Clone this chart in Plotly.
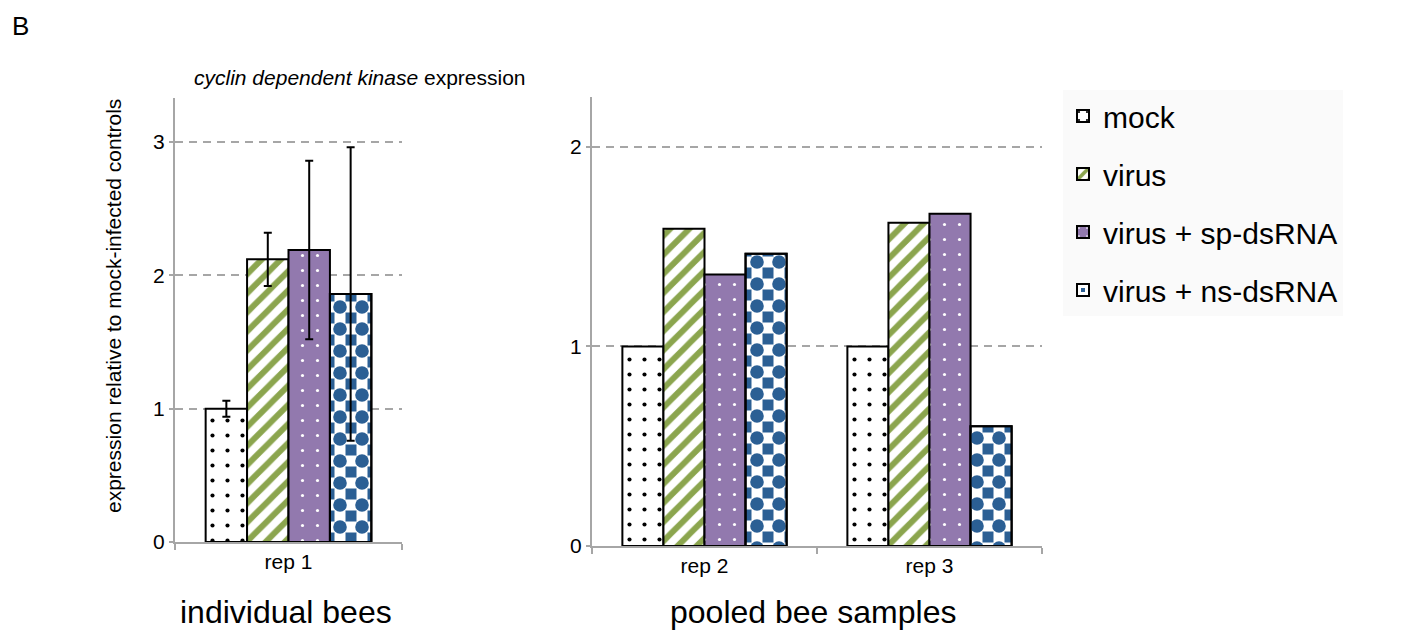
import plotly.graph_objects as go

W, H = 1427, 641
HE = 630.0  # effective vertical scale observed in the rendered page

# ---------------- data ----------------
series = ["mock", "virus", "virus + sp-dsRNA", "virus + ns-dsRNA"]
cats_left = ["rep 1"]
cats_right = ["rep 2", "rep 3"]

left_mock = [1.0]
left_virus = [2.12]
left_sp = [2.19]
left_ns = [1.86]
left_err_mock = [0.06]
left_err_virus = [0.20]
left_err_sp = [0.67]
left_err_ns = [1.10]

right_mock = [1.0, 1.0]
right_virus = [1.59, 1.62]
right_sp = [1.36, 1.665]
right_ns = [1.465, 0.60]

y_ticks_left = [0, 1, 2, 3]
y_ticks_right = [0, 1, 2]

# ---------------- style ----------------
FONT = "Liberation Sans, Arial, sans-serif"
GREEN = "#8BA54E"
PURPLE = "#9279AE"
BLUE = "#2B5F94"
AXIS = "#A6A6A6"


def fy(px):
    """pixel from top -> paper fraction"""
    return 1 - px / HE


patterns = {
    "mock": dict(shape=".", fgcolor="black", bgcolor="white", size=15, solidity=0.06, fillmode="replace"),
    "virus": dict(shape="/", fgcolor=GREEN, bgcolor="white", size=13.5, solidity=0.44, fillmode="replace"),
    "virus + sp-dsRNA": dict(shape=".", fgcolor="white", bgcolor=PURPLE, size=15, solidity=0.035, fillmode="replace"),
    "virus + ns-dsRNA": dict(shape="+", fgcolor="white", bgcolor=BLUE, size=22, solidity=0.75, fillmode="replace"),
}
overlay_pattern = dict(shape=".", fgcolor=BLUE, bgcolor="rgba(0,0,0,0)", size=22, solidity=0.30, fillmode="replace")

fig = go.Figure()


def add_panel(cats, vals, errs, xa, ya, showlegend):
    for i, name in enumerate(series):
        ey = None
        if errs is not None and name != "virus + ns-dsRNA":
            ey = dict(type="data", array=errs[i], color="black", thickness=2, width=4)
        fig.add_trace(go.Bar(
            x=cats, y=vals[i], name=name, xaxis=xa, yaxis=ya,
            offsetgroup=str(i), legendgroup=name, showlegend=showlegend,
            marker=dict(color="white", pattern=patterns[name], line=dict(color="black", width=2)),
            error_y=ey,
        ))
    # checkerboard overlay for ns-dsRNA
    ey = None
    if errs is not None:
        ey = dict(type="data", array=errs[3], color="black", thickness=2, width=4)
    fig.add_trace(go.Bar(
        x=cats, y=vals[3], name=series[3], xaxis=xa, yaxis=ya,
        offsetgroup="3", legendgroup=series[3], showlegend=False,
        marker=dict(color="rgba(0,0,0,0)", pattern=overlay_pattern, line=dict(color="black", width=2)),
        error_y=ey,
    ))


add_panel(cats_left, [left_mock, left_virus, left_sp, left_ns],
          [left_err_mock, left_err_virus, left_err_sp, left_err_ns], "x", "y", True)
add_panel(cats_right, [right_mock, right_virus, right_sp, right_ns], None, "x2", "y2", False)

xcommon = dict(showline=True, linecolor=AXIS, linewidth=2, ticks="outside", tickson="boundaries",
               ticklen=6, tickwidth=2, tickcolor=AXIS, showgrid=False, zeroline=False,
               tickfont=dict(family=FONT, size=21, color="black"), layer="below traces")
ycommon = dict(showline=True, linecolor=AXIS, linewidth=2, ticks="outside", ticklen=4, tickwidth=2,
               tickcolor=AXIS, showgrid=True, gridcolor=AXIS, gridwidth=2, griddash="8px,6px",
               zeroline=False, tickfont=dict(family=FONT, size=21, color="black"), layer="below traces")

fig.update_layout(
    width=W, height=H,
    margin=dict(l=0, r=0, t=0, b=0),
    paper_bgcolor="white", plot_bgcolor="white",
    barmode="group", bargap=0.27, bargroupgap=0,
    font=dict(family=FONT, color="black"),
    xaxis=dict(domain=[175 / W, 402 / W], anchor="y", **xcommon),
    yaxis=dict(domain=[fy(542), fy(98)], anchor="x", range=[0, 3.33],
               tickvals=y_ticks_left, **ycommon),
    xaxis2=dict(domain=[592 / W, 1042 / W], anchor="y2", **xcommon),
    yaxis2=dict(domain=[fy(546), fy(97)], anchor="x2", range=[0, 2.25],
                tickvals=y_ticks_right, **ycommon),
    legend=dict(x=1063 / W, y=fy(90), xanchor="left", yanchor="top",
                bgcolor="#FAFAFA", font=dict(family=FONT, size=30, color="black"),
                traceorder="grouped", tracegroupgap=16, itemclick=False),
    showlegend=True,
)

annotations = [
    dict(text="B", x=10 / W, y=fy(9), xanchor="left", yanchor="top",
         font=dict(size=26)),
    dict(text="<i>cyclin dependent kinase</i> expression", x=360 / W, y=fy(77),
         xanchor="center", yanchor="middle", font=dict(size=21)),
    dict(text="expression relative to mock-infected controls", x=113 / W, y=fy(306),
         xanchor="center", yanchor="middle", textangle=-90, font=dict(size=21)),
    dict(text="individual bees", x=286 / W, y=fy(612), xanchor="center", yanchor="middle",
         font=dict(size=32)),
    dict(text="pooled bee samples", x=813 / W, y=fy(612), xanchor="center", yanchor="middle",
         font=dict(size=32)),
]
for a in annotations:
    a.update(xref="paper", yref="paper", showarrow=False)
    a["font"].update(family=FONT, color="black")
fig.update_layout(annotations=annotations)

post = ("document.documentElement.style.margin='0px';"
        "document.documentElement.style.padding='0px';"
        "document.documentElement.style.overflow='hidden';"
        "document.body.style.margin='0px';"
        "document.body.style.padding='0px';"
        "document.body.style.overflow='hidden';")
fig.write_html("out.html", config={"displayModeBar": False}, post_script=post)
